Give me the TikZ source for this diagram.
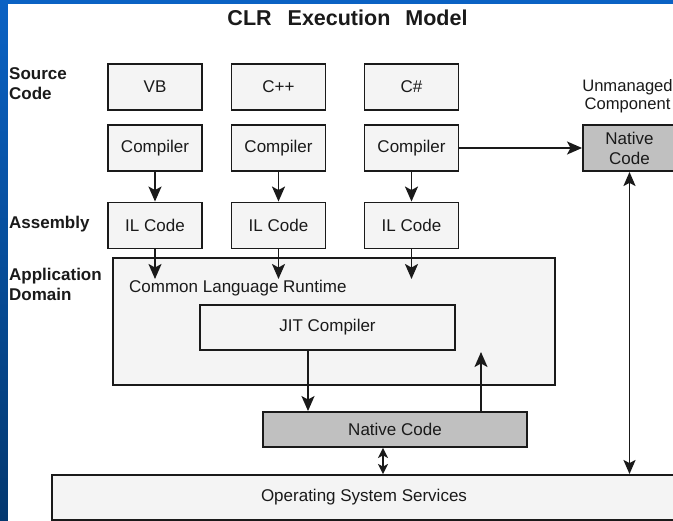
\documentclass[tikz,border=0pt]{standalone}
\usepackage{fontspec}
\setmainfont{Liberation Sans}
\usetikzlibrary{arrows.meta}

\definecolor{slideblue}{HTML}{0A62C4}
\definecolor{slidedark}{HTML}{04386F}
\definecolor{boxfill}{HTML}{F4F4F4}
\definecolor{nativefill}{HTML}{C0C0C0}
\definecolor{ink}{HTML}{1A1A1A}

\begin{document}
\begin{tikzpicture}[x=1pt,y=-1pt,
  every node/.style={text=ink, font=\fontsize{17}{20}\selectfont},
  box/.style={draw=ink, line width=1.9pt, fill=boxfill, inner sep=0pt,
    minimum width=94pt, minimum height=46pt, align=center},
  nativebox/.style={box, fill=nativefill},
  sidelabel/.style={font=\bfseries\fontsize{17}{20.5}\selectfont, anchor=west,
    align=left, inner sep=0pt},
  flow/.style={draw=ink, line width=1.8pt,
    -{Stealth[length=15pt,width=13pt,inset=3.5pt]}},
  both/.style={draw=ink, line width=1.8pt,
    {Stealth[length=14pt,width=12pt,inset=3pt]}-{Stealth[length=14pt,width=12pt,inset=3pt]}},
  shortboth/.style={draw=ink, line width=1.8pt,
    {Stealth[length=10pt,width=10pt,inset=2.5pt]}-{Stealth[length=10pt,width=10pt,inset=2.5pt]}}
]
\useasboundingbox (0,0) rectangle (673,521);
\clip (0,0) rectangle (673,521);

% slide background and white panel
\shade[top color=slideblue, bottom color=slidedark] (0,0) rectangle (673,521);
\fill[white] (8,4) rectangle (673,521);

% title
\node[font=\bfseries\fontsize{21.5}{24}\selectfont] (title) at (347.5,18)
  {CLR\hspace{16pt}Execution\hspace{15pt}Model};

% row labels
\node[sidelabel] (srclbl) at (9,83.5) {Source\\Code};
\node[sidelabel] (asmlbl) at (9,224) {Assembly};
\node[sidelabel] (applbl) at (9,284.5) {Application\\Domain};

% source code
\node[box] (vb)  at (155,87)   {VB};
\node[box] (cpp) at (278.5,87) {C++};
\node[box] (cs)  at (411.5,87) {C\#};

% compilers
\node[box] (vbc)  at (155,148)   {Compiler};
\node[box] (cppc) at (278.5,148) {Compiler};
\node[box] (csc)  at (411.5,148) {Compiler};

% IL code
\node[box] (vbil)  at (155,225.5)   {IL Code};
\node[box] (cppil) at (278.5,225.5) {IL Code};
\node[box] (csil)  at (411.5,225.5) {IL Code};

% unmanaged component
\node[align=center, font=\fontsize{16.6}{18}\selectfont] (unm) at (627.5,96)
  {Unmanaged\\Component};
\node[nativebox, minimum width=93pt] (ntop) at (629.5,148) {Native\\Code};

% runtime
\node[box, minimum width=442pt, minimum height=127pt] (clr) at (334,321.5) {};
\node[anchor=west, inner sep=0pt] (clrtext) at (129,288) {Common Language Runtime};
\node[box, minimum width=255pt, minimum height=45pt] (jit) at (327.5,327.5) {JIT Compiler};

% native code and OS
\node[nativebox, minimum width=264pt, minimum height=35pt] (nbot) at (395,429.5) {Native Code};
\node[box, minimum width=624pt, minimum height=45pt] (os) at (364,497.5) {Operating System Services};

% connector end points
\coordinate (vbin)  at (155,279);
\coordinate (cppin) at (278.5,279);
\coordinate (csin)  at (411.5,279);
\coordinate (jitout) at (308,0);
\coordinate (backup) at (481,352);
\coordinate (oslink) at (383,0);

% compile steps
\draw[flow] (vbc) -- (vbil);
\draw[flow] (cppc) -- (cppil);
\draw[flow] (csc) -- (csil);
\draw[flow] (csc) -- (ntop);

% into the runtime
\draw[flow] (vbil) -- (vbin);
\draw[flow] (cppil) -- (cppin);
\draw[flow] (csil) -- (csin);

% JIT to native code and back
\draw[flow] (jit.south -| jitout) -- (nbot.north -| jitout);
\draw[flow] (nbot.north -| backup) -- (backup);

% OS links
\draw[shortboth] (nbot.south -| oslink) -- (os.north -| oslink);
\draw[both] (ntop) -- (ntop |- os.north);
\end{tikzpicture}
\end{document}
